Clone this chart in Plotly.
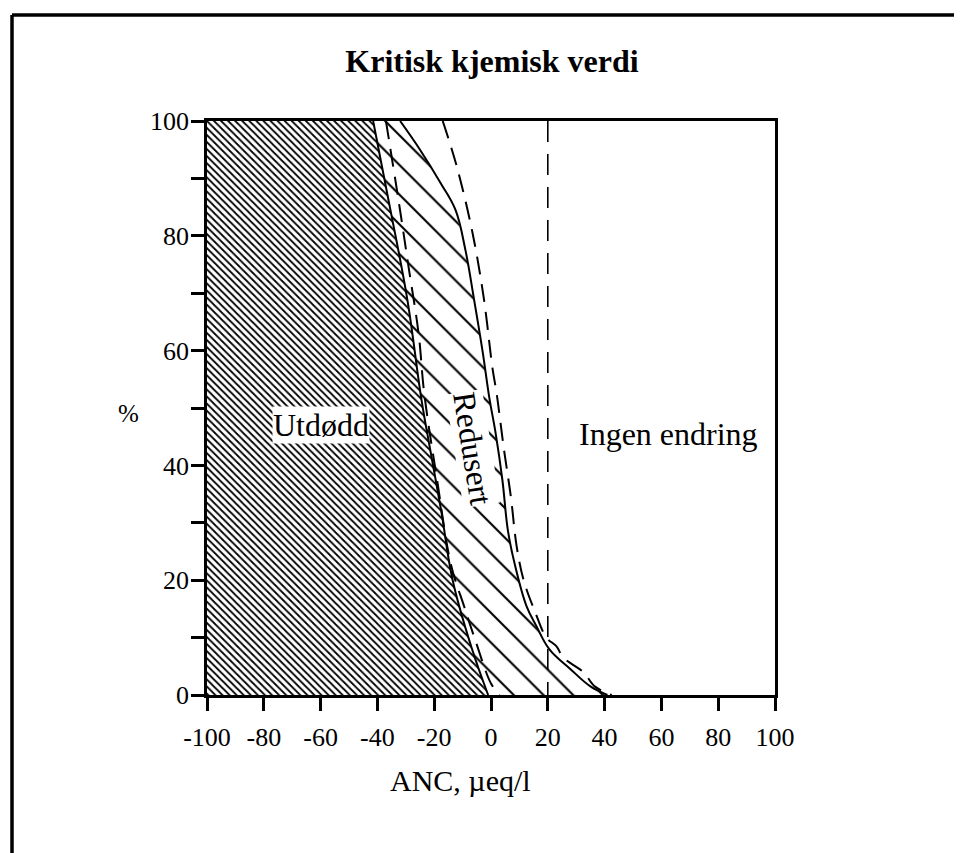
import plotly.graph_objects as go

# ---------------- data ----------------
x_tick_vals = [-100, -80, -60, -40, -20, 0, 20, 40, 60, 80, 100]
x_tick_text = ["-100", "-80", "-60", "-40", "-20", "0", "20", "40", "60", "80", "100"]
y_tick_vals = [0, 10, 20, 30, 40, 50, 60, 70, 80, 90, 100]
y_tick_text = ["0", "", "20", "", "40", "", "60", "", "80", "", "100"]

# boundary of the "Utdødd" (extinct) region, solid line (top -> bottom)
utdodd_x = [-41.5, -36, -29.5, -24.5, -21.5, -17.5, -13.5, -7, -1]
utdodd_y = [100, 86, 69, 51.5, 43, 32, 20, 8.5, 0]

# boundary of the "Redusert" (reduced) region, solid line (top -> bottom)
redusert_x = [-32, -25, -17.5, -12.5, -9, -6, -3, -0.5, 1.5, 4, 6, 8.5, 12.5, 16, 20.5, 28, 35, 41]
redusert_y = [100, 95, 89, 84.5, 77.5, 69, 60, 51.5, 46, 37.5, 28.5, 22.5, 15.5, 12, 8, 4.5, 1.5, 0]

# dashed curves
dash_left_x = [-37, -32.5, -29, -25.5, -23.5, -19, -14, -9.5, -5.5, 0, 3]
dash_left_y = [100, 86, 74.5, 63, 52.5, 37.5, 22.5, 15.5, 9.5, 2, 0]
dash_right_x = [-17, -12, -6.5, -2.5, 0.5, 2, 4.5, 7, 9, 11.5, 15.5, 19.5, 23, 25.5, 32.5, 36.5, 42.5]
dash_right_y = [100, 92, 80.5, 69, 57, 52.5, 43, 34.5, 26, 20, 14.5, 10, 8.5, 6.5, 4, 1.5, 0]

# vertical dashed limit
limit_x = [20, 20]
limit_y = [100, 0]

# region labels
label_text = ["Utdødd", "Redusert", "Ingen endring"]
label_x = [-60, -6.5, 62.5]
label_y = [47, 43, 45.5]
label_angle = [0, 81, 0]

SERIF = "Liberation Serif, Times New Roman, serif"

# page body has an 8px default margin; the figure is sized to fill the window
OFF = 8
FIG_W, FIG_H = 962 - OFF, 853 - OFF
PX0, PX1, PY0, PY1 = 207, 775, 121, 695   # plot box in page pixels


def px_x(p):
    return (p - PX0) / (PX1 - PX0)


def px_y(p):
    return (PY1 - p) / (PY1 - PY0)


fig = go.Figure()

# Utdødd region: dense hatching
fig.add_trace(go.Scatter(
    x=[-100] + utdodd_x + [-100], y=[100] + utdodd_y + [0],
    mode="lines", fill="toself", fillcolor="white",
    fillpattern=dict(shape="\\", size=5, solidity=0.36, fgcolor="black",
                     bgcolor="white", fgopacity=1),
    line=dict(width=0), hoverinfo="skip", showlegend=False))

# Redusert region: sparse hatching
fig.add_trace(go.Scatter(
    x=utdodd_x + redusert_x[::-1], y=utdodd_y + redusert_y[::-1],
    mode="lines", fill="toself", fillcolor="white",
    fillpattern=dict(shape="\\", size=21, solidity=0.1, fgcolor="black",
                     bgcolor="white", fgopacity=1),
    line=dict(width=0), hoverinfo="skip", showlegend=False))

# solid boundaries
for xs, ys in [(utdodd_x, utdodd_y), (redusert_x, redusert_y)]:
    fig.add_trace(go.Scatter(x=xs, y=ys, mode="lines",
                             line=dict(color="black", width=2, shape="spline", smoothing=1.1),
                             hoverinfo="skip", showlegend=False))

# dashed curves
for xs, ys in [(dash_left_x, dash_left_y), (dash_right_x, dash_right_y)]:
    fig.add_trace(go.Scatter(x=xs, y=ys, mode="lines",
                             line=dict(color="black", width=2, dash="18px,10px",
                                       shape="spline", smoothing=1.0),
                             hoverinfo="skip", showlegend=False))

fig.add_trace(go.Scatter(x=limit_x, y=limit_y, mode="lines",
                         line=dict(color="black", width=1.6, dash="21px,12px"),
                         hoverinfo="skip", showlegend=False))

for t, x, y, a in zip(label_text, label_x, label_y, label_angle):
    fig.add_annotation(x=x, y=y, xref="x", yref="y", text=t, showarrow=False,
                       textangle=a, bgcolor="white", borderpad=0,
                       xanchor="center", yanchor="middle",
                       font=dict(family=SERIF, size=32, color="black"))

# axis titles
fig.add_annotation(x=px_x(128), y=49, xref="paper", yref="y", text="%",
                   xanchor="center", yanchor="middle",
                   showarrow=False, font=dict(family=SERIF, size=25, color="black"))
fig.add_annotation(x=px_x(460), y=px_y(781), xref="paper", yref="paper",
                   xanchor="center", yanchor="middle",
                   text="ANC, µeq/l", showarrow=False,
                   font=dict(family=SERIF, size=30, color="black"))

# outer frame (left and top edges)
fx0, fx1 = px_x(12), px_x(962)
fy0, fy1 = px_y(853), px_y(15)
fig.add_shape(type="line", xref="paper", yref="paper", x0=fx0, x1=fx0, y0=fy0, y1=fy1,
              line=dict(color="black", width=3.5))
fig.add_shape(type="line", xref="paper", yref="paper", x0=fx0, x1=fx1, y0=fy1, y1=fy1,
              line=dict(color="black", width=3.5))

axis_common = dict(showgrid=False, zeroline=False, showline=True, linecolor="black",
                   linewidth=2.5, mirror=True, ticks="outside", ticklen=13, tickwidth=2.5,
                   tickcolor="black", tickfont=dict(family=SERIF, size=26, color="black"))

fig.update_xaxes(range=[-100, 100], tickmode="array", tickvals=x_tick_vals,
                 ticktext=x_tick_text, ticklabelstandoff=4, **axis_common)
fig.update_yaxes(range=[0, 100], tickmode="array", tickvals=y_tick_vals,
                 ticktext=y_tick_text, ticklabelstandoff=-3, **axis_common)

fig.update_layout(
    width=FIG_W, height=FIG_H,
    margin=dict(l=PX0 - OFF, r=FIG_W - (PX1 - OFF), t=PY0 - OFF, b=FIG_H - (PY1 - OFF)),
    paper_bgcolor="white", plot_bgcolor="white",
    title=dict(text="<b>Kritisk kjemisk verdi</b>", x=(492 - OFF) / FIG_W, xanchor="center",
               y=1 - (61 - OFF) / FIG_H, yanchor="middle", yref="container",
               font=dict(family=SERIF, size=32, color="black")),
    showlegend=False,
)

fig.write_html("out.html")
